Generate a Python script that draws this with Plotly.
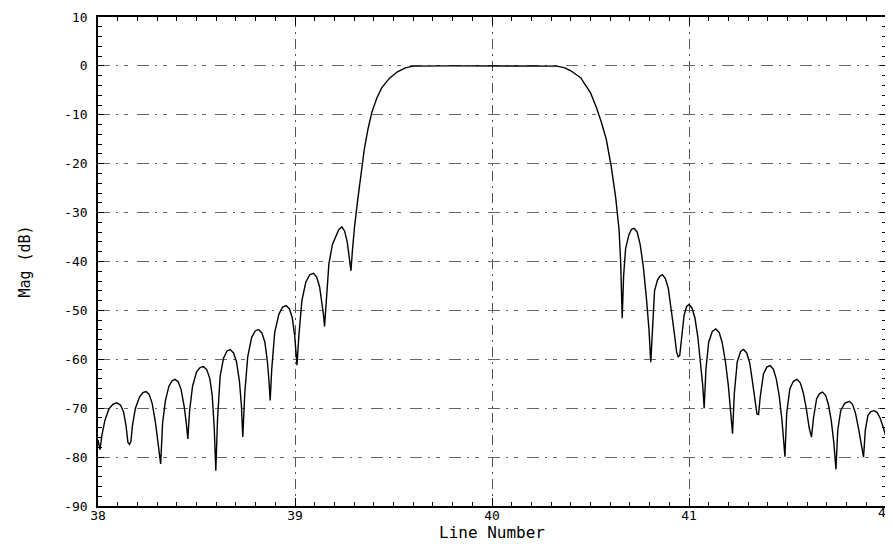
import plotly.graph_objects as go

# Filter magnitude response
line_number = [
    38.00, 38.01, 38.02, 38.035, 38.055, 38.075, 38.095, 38.115, 38.13, 38.142, 38.152, 38.160, 38.167,
    38.175, 38.19, 38.21, 38.228, 38.244, 38.26, 38.275, 38.292, 38.305, 38.318,
    38.328, 38.342, 38.36, 38.376, 38.391, 38.407, 38.422, 38.437, 38.448, 38.456,
    38.465, 38.48, 38.50, 38.518, 38.535, 38.552, 38.568, 38.58, 38.59, 38.598,
    38.607, 38.62, 38.637, 38.655, 38.671, 38.688, 38.703, 38.718, 38.728, 38.735,
    38.745, 38.76, 38.78, 38.798, 38.815, 38.832, 38.847, 38.86, 38.868, 38.874,
    38.882, 38.897, 38.918, 38.937, 38.955, 38.972, 38.986, 38.998, 39.005, 39.01,
    39.02, 39.035, 39.055, 39.075, 39.094, 39.11, 39.125, 39.138, 39.145, 39.150,
    39.158, 39.172, 39.19, 39.205, 39.222, 39.238, 39.252, 39.265, 39.276, 39.284,
    39.292, 39.302, 39.318, 39.335, 39.352, 39.37, 39.39, 39.415, 39.44, 39.48, 39.52, 39.56, 39.60,
    39.80, 40.00, 40.20, 40.33, 40.37, 40.40, 40.45, 40.50, 40.53, 40.555, 40.58, 40.605, 40.628,
    40.645, 40.653, 40.661,
    40.668, 40.678, 40.695, 40.708, 40.721, 40.737, 40.752, 40.768, 40.785, 40.797, 40.806,
    40.815, 40.825, 40.84, 40.852, 40.865, 40.88, 40.895, 40.91, 40.925, 40.937, 40.945, 40.953,
    40.962, 40.975, 40.988, 41.000, 41.015, 41.03, 41.045, 41.06, 41.07, 41.077,
    41.086, 41.10, 41.118, 41.136, 41.153, 41.168, 41.185, 41.20, 41.212, 41.221,
    41.23, 41.245, 41.262, 41.277, 41.293, 41.308, 41.322, 41.335, 41.345, 41.353,
    41.362, 41.378, 41.395, 41.412, 41.428, 41.443, 41.458, 41.472, 41.481, 41.487,
    41.496, 41.512, 41.53, 41.548, 41.565, 41.58, 41.595, 41.61, 41.622,
    41.632, 41.648, 41.663, 41.678, 41.694, 41.708, 41.722, 41.735, 41.746,
    41.755, 41.77, 41.79, 41.814, 41.83, 41.845, 41.86, 41.875, 41.886,
    41.895, 41.908, 41.923, 41.94, 41.955, 41.97, 41.985, 42.00,
]
mag_db = [
    -76.5, -78.5, -75.5, -72.5, -70.2, -69.2, -68.9, -69.4, -70.8, -73.5, -77.0, -77.4, -76.8,
    -73.5, -70.0, -67.8, -66.8, -66.6, -67.2, -69.0, -73.0, -77.0, -81.4,
    -73.0, -68.5, -65.5, -64.4, -64.1, -64.6, -66.2, -69.5, -73.0, -76.3,
    -70.5, -65.5, -62.6, -61.7, -61.5, -62.1, -64.0, -67.5, -74.0, -82.8,
    -72.0, -63.5, -59.8, -58.3, -58.0, -58.7, -60.5, -64.5, -69.5, -75.9,
    -67.0, -59.5, -55.5, -54.2, -53.9, -54.6, -56.5, -60.5, -64.5, -68.4,
    -62.0, -54.5, -50.8, -49.3, -49.0, -49.7, -51.5, -55.0, -58.5, -61.2,
    -55.0, -48.0, -44.2, -42.7, -42.4, -43.2, -45.2, -48.5, -51.0, -53.3,
    -48.0, -40.5, -36.5, -35.0, -33.5, -32.9, -33.8, -36.0, -39.0, -41.9,
    -37.5, -33.0, -27.5, -22.0, -17.0, -13.0, -9.5, -6.6, -4.5, -2.5, -1.2, -0.4, -0.05,
    0.0, 0.0, 0.0, -0.05, -0.4, -1.0, -2.4, -5.5, -8.5, -11.5, -15.0, -20.5, -27.0,
    -33.5, -40.0, -51.6,
    -43.0, -37.4, -34.5, -33.4, -33.2, -34.0, -36.5, -41.0, -48.0, -54.0, -60.6,
    -52.0, -46.0, -43.8, -43.0, -42.7, -43.5, -45.5, -49.5, -54.5, -58.5, -59.5, -59.2,
    -55.5, -51.0, -49.2, -48.8, -49.5, -51.5, -55.5, -61.0, -65.5, -70.0,
    -62.0, -56.5, -54.3, -53.8, -54.5, -56.5, -60.5, -65.5, -70.5, -75.2,
    -67.0, -60.5, -58.4, -58.0, -58.7, -60.7, -64.5, -69.0, -71.2, -71.3,
    -67.5, -63.0, -61.6, -61.3, -62.0, -64.0, -67.5, -72.5, -76.5, -79.9,
    -71.0, -66.0, -64.5, -64.1, -64.8, -66.8, -70.0, -74.0, -75.9,
    -72.0, -68.0, -67.0, -66.7, -67.4, -69.3, -72.5, -77.0, -82.5,
    -74.5, -70.5, -69.0, -68.6, -69.2, -71.0, -74.0, -77.5, -80.0,
    -74.5, -71.5, -70.7, -70.5, -70.9, -72.0, -73.8, -75.9,
]

x_ticks = [38, 39, 40, 41]
x_last_tick = 42
y_ticks = [10, 0, -10, -20, -30, -40, -50, -60, -70, -80, -90]

FONT = "DejaVu Sans Mono"
TICK_SIZE = 13

fig = go.Figure()
fig.add_trace(go.Scatter(
    x=line_number, y=mag_db, mode="lines",
    line=dict(color="black", width=1.4),
    showlegend=False, hoverinfo="skip",
))

# last x tick label sits on the figure edge (partly cut off, as in the original)
fig.add_annotation(
    x=x_last_tick, y=0, xref="x", yref="paper", yanchor="top", xanchor="center",
    yshift=3, text=str(x_last_tick), showarrow=False,
    font=dict(family=FONT, size=TICK_SIZE, color="black"),
)

# page body has an 8px margin, so the figure is 8px smaller than the window
fig.update_layout(
    width=885, height=540,
    margin=dict(l=90, r=7, t=9, b=42),
    paper_bgcolor="white", plot_bgcolor="white",
    font=dict(family=FONT, color="black", size=11),
    xaxis=dict(
        range=[38, 42], tickvals=x_ticks + [x_last_tick],
        ticktext=[str(v) for v in x_ticks] + [""],
        showline=True, linecolor="black", linewidth=1.5, mirror="allticks",
        ticks="inside", ticklen=8, tickcolor="black",
        showgrid=True, gridcolor="#555", griddash="10px,5px,2px,5px", gridwidth=1,
        minor=dict(dtick=0.1, ticks="inside", ticklen=4, tickcolor="black", showgrid=False),
        zeroline=False, automargin=False,
        ticklabelstandoff=-3,
        title=dict(text="Line Number", font=dict(family=FONT, size=16), standoff=2),
        tickfont=dict(family=FONT, size=TICK_SIZE),
    ),
    yaxis=dict(
        range=[-90, 10], tickvals=y_ticks, ticktext=[str(v) for v in y_ticks],
        showline=True, linecolor="black", linewidth=1.5, mirror="allticks",
        ticks="inside", ticklen=6, tickcolor="black",
        showgrid=True, gridcolor="#666", griddash="12px,6px,2px,6px,4px,9px", gridwidth=1,
        minor=dict(dtick=2, ticks="inside", ticklen=4, tickcolor="black", showgrid=False),
        zeroline=False, automargin=False,
        ticklabelstandoff=6,
        title=dict(text="Mag (dB)", font=dict(family=FONT, size=15), standoff=30),
        tickfont=dict(family=FONT, size=TICK_SIZE),
    ),
)

fig.write_html("out.html")
